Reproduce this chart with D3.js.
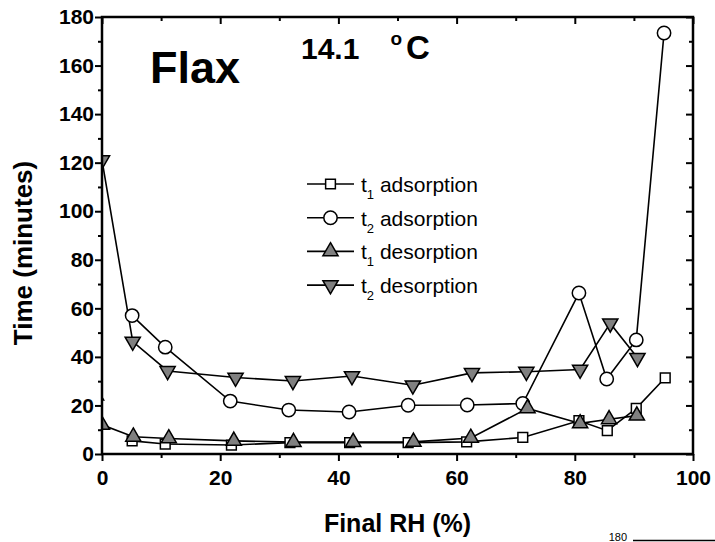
<!DOCTYPE html>
<html lang="en">
<head>
<meta charset="UTF-8">
<title>Flax 14.1 C</title>
<script src="https://d3js.org/d3.v7.min.js"></script>
<style>
  body { margin: 0; background: #fff; }
  text { font-family: "Liberation Sans", Arial, sans-serif; }
</style>
</head>
<body>
<svg id="chart" width="715" height="542"></svg>
<script>
// values: [Final RH %, time in minutes]
var t1Adsorption = [[5.1, 5.4], [10.7, 4.1], [21.9, 3.7], [31.8, 4.7], [41.9, 4.7], [51.8, 4.7],
                    [61.7, 5.0], [71.2, 6.8], [80.7, 13.7], [85.5, 9.6], [90.4, 18.8], [95.3, 31.4]];
var t2Adsorption = [[5.1, 57], [10.7, 44], [21.7, 21.8], [31.6, 18.1], [41.8, 17.3], [51.8, 20.1],
                    [61.8, 20.2], [71.2, 20.8], [80.7, 66.3], [85.4, 30.9], [90.4, 47], [95.1, 173.4]];
var t1Desorption = [[-1, 24], [0, 12], [5.3, 7.1], [11.3, 6.4], [22.3, 5.4], [32.4, 4.9], [42.5, 4.9],
                    [52.7, 5.0], [62.4, 6.6], [72.0, 18.8], [80.9, 12.6], [85.8, 14.3], [90.5, 15.8]];
var t2Desorption = [[0, 121], [5.2, 46.3], [11.1, 34.2], [22.6, 31.5], [32.3, 30.1], [42.3, 32.1],
                    [52.6, 28.3], [62.6, 33.4], [71.8, 33.9], [80.9, 34.8], [86.0, 53.8], [90.6, 39.6]];

var xTicks = [0, 20, 40, 60, 80, 100];
var xMinor = [10, 30, 50, 70, 90];
var yTicks = [0, 20, 40, 60, 80, 100, 120, 140, 160, 180];
var yMinor = [10, 30, 50, 70, 90, 110, 130, 150, 170];

var series = [
    {name: "1", kind: " adsorption", data: t1Adsorption, symbol: d3.symbolSquare, size: 95, fill: "#fff", rot: 0},
    {name: "2", kind: " adsorption", data: t2Adsorption, symbol: d3.symbolCircle, size: 140, fill: "#fff", rot: 0},
    {name: "1", kind: " desorption", data: t1Desorption, symbol: d3.symbolTriangle, size: 100, fill: "#808080", rot: 0},
    {name: "2", kind: " desorption", data: t2Desorption, symbol: d3.symbolTriangle, size: 100, fill: "#808080", rot: 180}
];

var margin = {top: 17, right: 22, bottom: 88, left: 102},
    width = 715 - margin.left - margin.right,
    height = 542 - margin.top - margin.bottom;

var svg = d3.select("#chart");
var g = svg.append("g").attr("transform", "translate(" + margin.left + "," + margin.top + ")");

var xScale = d3.scaleLinear().domain([0, 100]).range([0, width]);
var yScale = d3.scaleLinear().domain([0, 180]).range([height, 0]);

g.append("clipPath").attr("id", "plot-clip")
    .append("rect").attr("width", width).attr("height", height);

// axes: outward ticks bottom/left, inward top/right
function styleAxis(sel) {
    sel.select(".domain").remove();
    sel.selectAll(".tick line").attr("stroke", "#000").attr("stroke-width", 2);
    sel.selectAll("text").attr("fill", "#000")
        .style("font-size", "21px").style("font-weight", "bold")
        .style("font-family", "'Liberation Sans', Arial, sans-serif");
}

g.append("g").attr("transform", "translate(0," + height + ")")
    .call(d3.axisBottom(xScale).tickValues(xTicks).tickSize(7).tickPadding(9).tickFormat(d3.format("d")))
    .call(styleAxis);
g.append("g").attr("transform", "translate(0," + height + ")")
    .call(d3.axisBottom(xScale).tickValues(xMinor).tickSize(4).tickFormat(""))
    .call(styleAxis);
g.append("g")
    .call(d3.axisLeft(yScale).tickValues(yTicks).tickSize(7).tickPadding(1).tickFormat(d3.format("d")))
    .call(styleAxis);
g.append("g")
    .call(d3.axisLeft(yScale).tickValues(yMinor).tickSize(4).tickFormat(""))
    .call(styleAxis);
g.append("g")
    .call(d3.axisTop(xScale).tickValues(xTicks).tickSize(-7).tickFormat(""))
    .call(styleAxis);
g.append("g")
    .call(d3.axisTop(xScale).tickValues(xMinor).tickSize(-4).tickFormat(""))
    .call(styleAxis);
g.append("g").attr("transform", "translate(" + width + ",0)")
    .call(d3.axisRight(yScale).tickValues(yTicks).tickSize(-7).tickFormat(""))
    .call(styleAxis);
g.append("g").attr("transform", "translate(" + width + ",0)")
    .call(d3.axisRight(yScale).tickValues(yMinor).tickSize(-4).tickFormat(""))
    .call(styleAxis);

// series
var line = d3.line().x(function(d) { return xScale(d[0]); }).y(function(d) { return yScale(d[1]); });
var plot = g.append("g").attr("clip-path", "url(#plot-clip)");

series.forEach(function(s) {
    plot.append("path").datum(s.data)
        .attr("d", line).attr("fill", "none")
        .attr("stroke", "#000").attr("stroke-width", 1.6);
});
series.forEach(function(s) {
    plot.selectAll(null).data(s.data).enter().append("path")
        .attr("d", d3.symbol().type(s.symbol).size(s.size))
        .attr("transform", function(d) {
            return "translate(" + xScale(d[0]) + "," + yScale(d[1]) + ") rotate(" + s.rot + ")";
        })
        .attr("fill", s.fill).attr("stroke", "#000").attr("stroke-width", 1.5);
});

// frame
g.append("rect").attr("width", width).attr("height", height)
    .attr("fill", "none").attr("stroke", "#000").attr("stroke-width", 2.5);

// legend
var legend = g.append("g").attr("transform", "translate(205,167)");
series.forEach(function(s, i) {
    var row = legend.append("g").attr("transform", "translate(0," + (i * 33.7) + ")");
    row.append("line").attr("x1", 0).attr("x2", 47).attr("y1", 0).attr("y2", 0)
        .attr("stroke", "#000").attr("stroke-width", 1.6);
    row.append("path")
        .attr("d", d3.symbol().type(s.symbol).size(s.size))
        .attr("transform", "translate(23.5,0) rotate(" + s.rot + ")")
        .attr("fill", s.fill).attr("stroke", "#000").attr("stroke-width", 1.5);
    var t = row.append("text").attr("x", 54).attr("y", 8).style("font-size", "21px");
    t.append("tspan").text("t");
    t.append("tspan").attr("dy", 7).style("font-size", "13px").text(s.name);
    t.append("tspan").attr("dy", -7).text(s.kind);
});

// annotations
g.append("text").attr("x", 48).attr("y", 66)
    .style("font-size", "45px").style("font-weight", "bold").text("Flax");
var temp = g.append("text").attr("x", 199).attr("y", 42)
    .style("font-size", "30px").style("font-weight", "bold");
temp.append("tspan").text("14.1");
temp.append("tspan").attr("dx", 31).attr("dy", -14).style("font-size", "19px").text("o");
temp.append("tspan").attr("dx", 4).attr("dy", 14).style("font-size", "33px").text("C");

// axis titles
svg.append("text").attr("x", margin.left + width / 2).attr("y", 532)
    .attr("text-anchor", "middle").style("font-size", "25px").style("font-weight", "bold")
    .text("Final RH (%)");
svg.append("text").attr("transform", "translate(32,253) rotate(-90)")
    .attr("text-anchor", "middle").style("font-size", "26px").style("font-weight", "bold")
    .text("Time (minutes)");

// edge of the next panel at the bottom
svg.append("text").attr("x", 627).attr("y", 541).attr("text-anchor", "end")
    .style("font-size", "11px").text("180");
svg.append("line").attr("x1", 633).attr("x2", 715).attr("y1", 540.5).attr("y2", 540.5)
    .attr("stroke", "#000").attr("stroke-width", 1.5);
</script>
</body>
</html>
